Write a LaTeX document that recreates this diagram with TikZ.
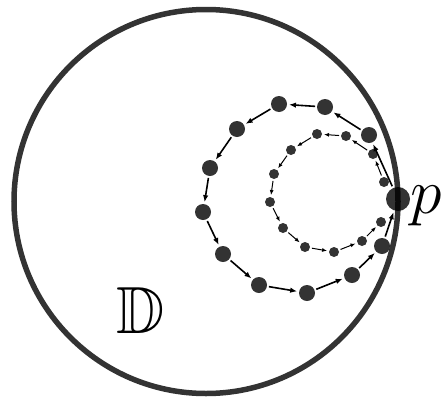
\documentclass[tikz,border=0pt]{standalone}
\usepackage{graphicx}
\usepackage{amssymb}
\usetikzlibrary{arrows.meta}
\definecolor{ink}{HTML}{333333}
\tikzset{
  bigdot/.style={circle,fill=black,fill opacity=0.8,inner sep=0pt,outer sep=0pt,minimum size=16pt},
  smalldot/.style={circle,fill=black,fill opacity=0.8,inner sep=0pt,outer sep=0pt,minimum size=10pt},
  pdot/.style={circle,fill=black,fill opacity=0.8,inner sep=0pt,outer sep=0pt,minimum size=24pt},
  bigarr/.style={-{Latex[length=7pt,width=5.5pt]},line width=1.6pt,shorten <=2pt,shorten >=2pt},
  smallarr/.style={-{Latex[length=5pt,width=4pt]},line width=1pt,shorten <=2pt,shorten >=2pt},
  lbl/.style={inner sep=0pt,outer sep=0pt}
}
\begin{document}
\begin{tikzpicture}[x=1pt,y=-1pt]
\useasboundingbox (0,0) rectangle (441,399);
\draw[ink,line width=5.5pt] (206,201.5) circle[radius=192];
% p
\node[pdot] (p) at (398,199) {};
% large orbit
\node[bigdot] (L1) at (369,135) {};
\node[bigdot] (L2) at (325,107) {};
\node[bigdot] (L3) at (279,104) {};
\node[bigdot] (L4) at (237,129) {};
\node[bigdot] (L5) at (210,168) {};
\node[bigdot] (L6) at (203,212) {};
\node[bigdot] (L7) at (223,254) {};
\node[bigdot] (L8) at (259,285) {};
\node[bigdot] (L9) at (307,293) {};
\node[bigdot] (L10) at (352,275) {};
\node[bigdot] (L11) at (382,246) {};
% small orbit
\node[smalldot] (S1) at (384,182) {};
\node[smalldot] (S2) at (373,154) {};
\node[smalldot] (S3) at (346,136) {};
\node[smalldot] (S4) at (317,134) {};
\node[smalldot] (S5) at (291,150) {};
\node[smalldot] (S6) at (274,174) {};
\node[smalldot] (S7) at (270,202) {};
\node[smalldot] (S8) at (283,228) {};
\node[smalldot] (S9) at (305,247) {};
\node[smalldot] (S10) at (334,252) {};
\node[smalldot] (S11) at (362,241) {};
\node[smalldot] (S12) at (381,222) {};
% large arrows
\draw[bigarr] (p) -- (L1);
\draw[bigarr] (L1) -- (L2);
\draw[bigarr] (L2) -- (L3);
\draw[bigarr] (L3) -- (L4);
\draw[bigarr] (L4) -- (L5);
\draw[bigarr] (L5) -- (L6);
\draw[bigarr] (L6) -- (L7);
\draw[bigarr] (L7) -- (L8);
\draw[bigarr] (L8) -- (L9);
\draw[bigarr] (L9) -- (L10);
\draw[bigarr] (L10) -- (L11);
\draw[bigarr] (L11) -- (p);
% small arrows
\draw[smallarr] (S1) -- (S2);
\draw[smallarr] (S2) -- (S3);
\draw[smallarr] (S3) -- (S4);
\draw[smallarr] (S4) -- (S5);
\draw[smallarr] (S5) -- (S6);
\draw[smallarr] (S6) -- (S7);
\draw[smallarr] (S7) -- (S8);
\draw[smallarr] (S8) -- (S9);
\draw[smallarr] (S9) -- (S10);
\draw[smallarr] (S10) -- (S11);
\draw[smallarr] (S11) -- (S12);
% labels
\node[lbl,anchor=base west] (plabel) at (410.5,213) {\scalebox{2.57}{\Huge$p$}};
\node[lbl,anchor=base west] (dlabel) at (116,333) {\scalebox{2.68}{\Huge$\mathbb{D}$}};
\end{tikzpicture}
\end{document}
